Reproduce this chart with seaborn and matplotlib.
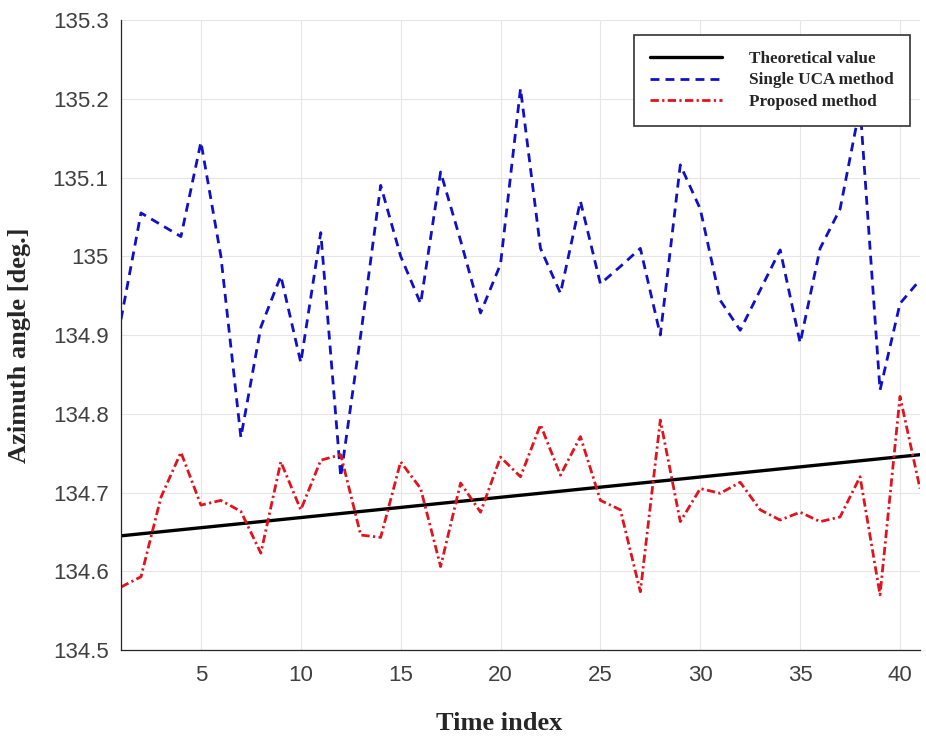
import matplotlib
matplotlib.use("Agg")
import matplotlib.pyplot as plt
import matplotlib.ticker as mticker
import seaborn as sns
import pandas as pd

# values
time_index = list(range(1, 42))
single_uca = [134.92, 135.055, 135.04, 135.025, 135.145, 135.0, 134.77, 134.91, 134.975, 134.865,
              135.03, 134.72, 134.9, 135.09, 135.0, 134.94, 135.107, 135.02, 134.928, 134.99,
              135.213, 135.01, 134.953, 135.07, 134.965, 134.987, 135.01, 134.9, 135.116, 135.06,
              134.944, 134.906, 134.957, 135.008, 134.89, 135.01, 135.06, 135.19, 134.83, 134.94,
              134.97]
proposed = [134.58, 134.593, 134.694, 134.751, 134.684, 134.69, 134.676, 134.623, 134.739, 134.678,
            134.741, 134.748, 134.646, 134.643, 134.739, 134.705, 134.606, 134.712, 134.675, 134.745,
            134.72, 134.786, 134.722, 134.771, 134.69, 134.678, 134.574, 134.792, 134.663, 134.705,
            134.699, 134.713, 134.678, 134.665, 134.675, 134.663, 134.669, 134.72, 134.57, 134.822,
            134.705]
theory_x = [1, 41]
theory_y = [134.645, 134.748]

labels = ["Theoretical value", "Single UCA method", "Proposed method"]
y_ticks = [134.5, 134.6, 134.7, 134.8, 134.9, 135.0, 135.1, 135.2, 135.3]
x_ticks = [5, 10, 15, 20, 25, 30, 35, 40]

sns.set_style("white")
serif = ["Liberation Serif", "DejaVu Serif"]

df_theory = pd.DataFrame({"t": theory_x, "v": theory_y})
df_uca = pd.DataFrame({"t": time_index, "v": single_uca})
df_prop = pd.DataFrame({"t": time_index, "v": proposed})

fig = plt.figure(figsize=(9.26, 7.41), dpi=100)
ax = fig.add_axes([0.1307, 0.1228, 0.8628, 0.8502])

sns.lineplot(data=df_theory, x="t", y="v", ax=ax, color="black", linewidth=2.4, label=labels[0])
sns.lineplot(data=df_uca, x="t", y="v", ax=ax, color="#1010C8", linewidth=2.0, label=labels[1],
             dashes=False, linestyle=(0, (3.2, 2.2)))
sns.lineplot(data=df_prop, x="t", y="v", ax=ax, color="#E0141E", linewidth=2.0, label=labels[2],
             dashes=False, linestyle=(0, (3.0, 1.2, 0.8, 1.2)))

ax.set_xlim(1, 41)
ax.set_ylim(134.5, 135.3)
ax.set_xticks(x_ticks)
ax.set_yticks(y_ticks)
ax.yaxis.set_major_formatter(mticker.FuncFormatter(lambda v, p: f"{v:g}"))
ax.grid(True, color="#E6E6E6", linewidth=0.8)
ax.tick_params(direction="in", length=5, labelsize=16, colors="#333333", width=0.8)
ax.tick_params(axis="y", pad=9)
ax.tick_params(axis="x", pad=11)
for lab in ax.get_xticklabels() + ax.get_yticklabels():
    lab.set_fontfamily(["Liberation Sans", "DejaVu Sans"])
    lab.set_color("#404040")
for side in ["top", "right"]:
    ax.spines[side].set_visible(False)
for side in ["left", "bottom"]:
    ax.spines[side].set_color("#262626")
    ax.spines[side].set_linewidth(0.9)

ax.set_xlabel("Time index", fontsize=19, fontweight="bold", family=serif)
ax.set_ylabel("Azimuth angle [deg.]", fontsize=19, fontweight="bold", family=serif)
ax.xaxis.set_label_coords(0.473, -0.098)
ax.yaxis.set_label_coords(-0.113, 0.484)

leg = ax.legend(loc="upper right", bbox_to_anchor=(0.988, 0.976), borderaxespad=0, frameon=True,
                fancybox=False, framealpha=1.0, handlelength=4.2, handletextpad=1.6,
                labelspacing=0.3, borderpad=0.95,
                prop={"family": serif, "weight": "bold", "size": 12.3})
leg.get_frame().set_edgecolor("#333333")
leg.get_frame().set_linewidth(1.2)

fig.savefig("out.png", dpi=100)
